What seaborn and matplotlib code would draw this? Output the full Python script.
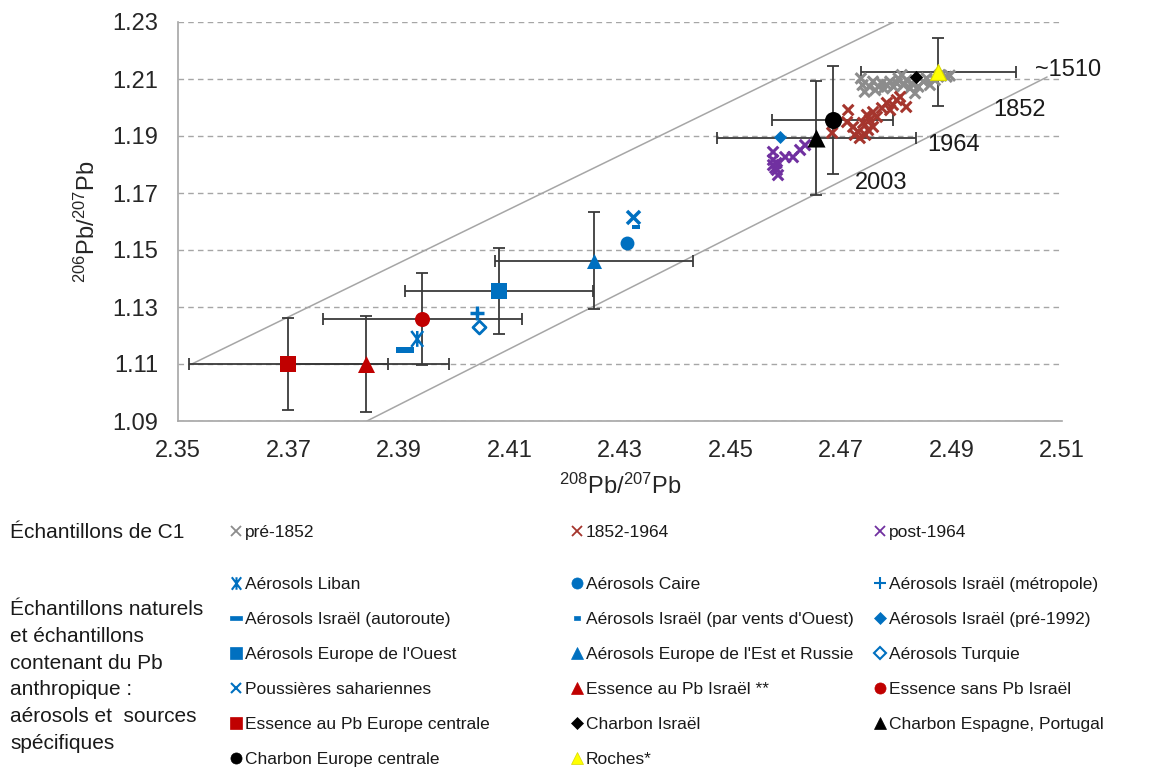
import numpy as np
import pandas as pd
import matplotlib.pyplot as plt
import seaborn as sns
from matplotlib import font_manager
from matplotlib.lines import Line2D
from matplotlib.markers import MarkerStyle
from matplotlib.path import Path


# C1 samples (ice core), 208Pb/207Pb vs 206Pb/207Pb
pre1852_x = [2.4736, 2.4739, 2.4743, 2.4752, 2.4758, 2.4762, 2.4768, 2.4774, 2.4777, 2.4783,
             2.4789, 2.4795, 2.4801, 2.4804, 2.4810, 2.4813, 2.4819, 2.4825, 2.4828, 2.4834,
             2.4840, 2.4849, 2.4855, 2.4861, 2.4870, 2.4879, 2.4891, 2.4897]
pre1852_y = [1.2102, 1.2079, 1.2055, 1.2073, 1.2091, 1.2061, 1.2073, 1.2085, 1.2067, 1.2079,
             1.2091, 1.2073, 1.2085, 1.2102, 1.2114, 1.2079, 1.2096, 1.2067, 1.2085, 1.2050,
             1.2073, 1.2091, 1.2102, 1.2079, 1.2096, 1.2114, 1.2108, 1.2112]
mid_x = [2.4684, 2.4713, 2.4711, 2.4722, 2.4725, 2.4731, 2.4734, 2.4740, 2.4744, 2.4747, 2.4749,
         2.4752, 2.4758, 2.4758, 2.4765, 2.4774, 2.4783, 2.4789, 2.4794, 2.4801, 2.4807, 2.4818]
mid_y = [1.1911, 1.1991, 1.1949, 1.1932, 1.1904, 1.1914, 1.1893, 1.1946, 1.1904, 1.1974, 1.1921,
         1.1956, 1.1984, 1.1932, 1.1967, 1.1998, 1.2016, 1.1991, 1.2009, 1.2026, 1.2037, 1.2002]
post1964_x = [2.4577, 2.4577, 2.4577, 2.4584, 2.4586, 2.4581, 2.4599, 2.4613, 2.4626, 2.4635, 2.4583]
post1964_y = [1.1844, 1.1816, 1.1798, 1.1781, 1.1763, 1.1788, 1.1826, 1.1826, 1.1851, 1.1868, 1.1805]
c1_labels = ["pré-1852", "1852-1964", "post-1964"]

# natural and anthropogenic sources
src_names = ["Aérosols Liban", "Aérosols Caire", "Aérosols Israël (métropole)",
             "Aérosols Israël (autoroute)", "Aérosols Israël (par vents d'Ouest)",
             "Aérosols Israël (pré-1992)", "Aérosols Europe de l'Ouest",
             "Aérosols Europe de l'Est et Russie", "Aérosols Turquie", "Poussières sahariennes",
             "Essence au Pb Israël **", "Essence sans Pb Israël", "Essence au Pb Europe centrale",
             "Charbon Israël", "Charbon Espagne, Portugal", "Charbon Europe centrale", "Roches*"]
src_x = [2.3933, 2.4313, 2.4041, 2.3911, 2.4329, 2.4590, 2.4081, 2.4253, 2.4045, 2.4324,
         2.3840, 2.3942, 2.3700, 2.4836, 2.4655, 2.4685, 2.4876]
src_y = [1.1188, 1.1525, 1.1279, 1.1149, 1.1580, 1.1896, 1.1356, 1.1462, 1.1230, 1.1616,
         1.1100, 1.1258, 1.1100, 1.2107, 1.1893, 1.1956, 1.2125]
src_xerr = [0, 0, 0, 0, 0, 0, 0.017, 0.018, 0, 0, 0.015, 0.018, 0.018, 0, 0.018, 0.011, 0.014]
src_yerr = [0, 0, 0, 0, 0, 0, 0.015, 0.017, 0, 0, 0.017, 0.016, 0.016, 0, 0.020, 0.019, 0.012]

# isochron-like guide lines and their date labels
guide_upper = ([2.3525, 2.4795], [1.110, 1.230])
guide_lower = ([2.3842, 2.5073], [1.090, 1.2107])
date_labels = ["~1510", "1852", "1964", "2003"]
date_x = [2.5051, 2.4975, 2.4857, 2.4725]
date_y = [1.2132, 1.1991, 1.1868, 1.1735]

BLUE = "#0070c0"
RED = "#c00000"
GREY = "#8c8c8c"
BROWN = "#a5352d"
PURPLE = "#7030a0"

# cross with a vertical bar through it
asterisk = MarkerStyle(
    Path([(0, -1), (0, 1), (-0.75, -1), (0.75, 1), (-0.75, 1), (0.75, -1)],
         [Path.MOVETO, Path.LINETO, Path.MOVETO, Path.LINETO, Path.MOVETO, Path.LINETO]),
    fillstyle="none")
wide_bar = Path([(-1, -0.33), (1, -0.33), (1, 0.33), (-1, 0.33), (-1, -0.33)],
                [Path.MOVETO, Path.LINETO, Path.LINETO, Path.LINETO, Path.CLOSEPOLY])
small_bar = Path([(-1, -0.55), (1, -0.55), (1, 0.55), (-1, 0.55), (-1, -0.55)],
                 [Path.MOVETO, Path.LINETO, Path.LINETO, Path.LINETO, Path.CLOSEPOLY])

# marker, face, edge, size (pt^2), edge width
src_style = [
    (asterisk, BLUE, BLUE, 130, 1.8),
    ("o", BLUE, BLUE, 100, 0),
    ("+", BLUE, BLUE, 90, 2.5),
    (wide_bar, BLUE, BLUE, 150, 0),
    (small_bar, BLUE, BLUE, 34, 0),
    ("D", BLUE, BLUE, 44, 0),
    ("s", BLUE, BLUE, 117, 0),
    ("^", BLUE, BLUE, 117, 0),
    ("D", "white", BLUE, 44, 2),
    ("x", BLUE, BLUE, 88, 2.5),
    ("^", RED, RED, 150, 0),
    ("o", RED, RED, 117, 0),
    ("s", RED, RED, 132, 0),
    ("D", "black", "black", 46, 0),
    ("^", "black", "black", 169, 0),
    ("o", "black", "black", 150, 0),
    ("^", "#ffff00", "#d8d800", 132, 0.8),
]

sns.set_style("white")
plt.rcParams["font.family"] = ["Liberation Sans", "DejaVu Sans"]
plt.rcParams["mathtext.fontset"] = "custom"
plt.rcParams["mathtext.rm"] = "Liberation Sans"

# the legend entries use a condensed face if there is one
installed = {f.name for f in font_manager.fontManager.ttflist}
if "Liberation Sans Narrow" in installed:
    LEG_FAMILY, LEG_SIZE, LEG_SPACING = ["Liberation Sans Narrow", "Liberation Sans"], 15, 0.78
else:
    LEG_FAMILY, LEG_SIZE, LEG_SPACING = ["Liberation Sans", "DejaVu Sans"], 12.5, 1.14

W, H = 1174, 771
fig = plt.figure(figsize=(W / 100, H / 100), dpi=100)
ax = fig.add_axes([178 / W, 1 - 421 / H, (1062 - 178) / W, (421 - 22) / H])

ax.plot(*guide_upper, color="#a6a6a6", lw=1.1, zorder=1)
ax.plot(*guide_lower, color="#a6a6a6", lw=1.1, zorder=1)

c1 = pd.DataFrame({
    "x": pre1852_x + mid_x + post1964_x,
    "y": pre1852_y + mid_y + post1964_y,
    "groupe": [c1_labels[0]] * len(pre1852_x) + [c1_labels[1]] * len(mid_x)
    + [c1_labels[2]] * len(post1964_x),
})
sns.scatterplot(data=c1, x="x", y="y", hue="groupe", palette=[GREY, BROWN, PURPLE],
                marker="x", s=58, linewidth=2.2, legend=False, ax=ax, zorder=3)

for i, name in enumerate(src_names):
    if src_xerr[i] or src_yerr[i]:
        ax.errorbar(src_x[i], src_y[i], xerr=src_xerr[i], yerr=src_yerr[i], fmt="none",
                    ecolor="#3a3a3a", elinewidth=1.3, capsize=4, capthick=1.3, zorder=2)
for i, name in enumerate(src_names):
    m, fc, ec, s, lw = src_style[i]
    sns.scatterplot(x=[src_x[i]], y=[src_y[i]], marker=m, s=s, color=fc, edgecolor=ec,
                    linewidth=lw, ax=ax, zorder=4, legend=False)

for lab, tx, ty in zip(date_labels, date_x, date_y):
    ax.text(tx, ty, lab, fontsize=17, color="#1a1a1a", ha="left", va="center")

ax.set_xlim(2.35, 2.51)
ax.set_ylim(1.09, 1.23)
ax.set_xticks(np.linspace(2.35, 2.51, 9))
ax.set_yticks(np.linspace(1.09, 1.23, 8))
ax.xaxis.set_major_formatter("{x:.2f}")
ax.yaxis.set_major_formatter("{x:.2f}")
ax.yaxis.grid(True, linestyle=(0, (4, 3)), color="#a6a6a6", lw=1)
ax.xaxis.grid(False)
sns.despine(ax=ax)
for side in ("left", "bottom"):
    ax.spines[side].set_color("#a6a6a6")
    ax.spines[side].set_linewidth(1.2)
ax.tick_params(axis="both", direction="out", length=6, width=1.2, color="#a6a6a6",
               labelsize=17, labelcolor="#262626", pad=8)
ax.set_xlabel(r"$\mathregular{^{208}Pb/^{207}Pb}$", fontsize=17, color="#262626", labelpad=8)
ax.set_ylabel(r"$\mathregular{^{206}Pb/^{207}Pb}$", fontsize=17, color="#262626", labelpad=9)


def handle(m, fc, ec, ms, mew):
    return Line2D([], [], linestyle="none", marker=m, markersize=ms,
                  markerfacecolor=fc, markeredgecolor=ec, markeredgewidth=mew)


def column_legend(handles, labels, x_px, y_px):
    leg = fig.legend(handles, labels, loc="upper left",
                     bbox_to_anchor=(x_px / W, 1 - y_px / H), frameon=False,
                     prop={"family": LEG_FAMILY, "size": LEG_SIZE},
                     handlelength=0.6, handletextpad=0.2,
                     labelspacing=LEG_SPACING, borderpad=0, borderaxespad=0)
    for t in leg.get_texts():
        t.set_color("#1a1a1a")
    return leg


c1_cols = [GREY, BROWN, PURPLE]
col_x = [231, 572, 875]
for k in range(3):
    column_legend([handle("x", c1_cols[k], c1_cols[k], 6.5, 1.3)], [c1_labels[k]], col_x[k], 525)

leg_small = {"D": 6, "s": 8, "^": 8, "o": 8, "x": 6.5, "+": 8}
src_handles = []
for m, fc, ec, s, lw in src_style:
    if isinstance(m, str):
        ms = leg_small.get(m, 8)
    elif m is small_bar:
        ms = 5
    else:
        ms = 9
    mew = 1.5 if (m in ("x", "+") or m is asterisk or fc == "white") else 0.5
    src_handles.append(handle(m, fc, ec, ms, mew))

col_rows = [[0, 3, 6, 9, 12, 15], [1, 4, 7, 10, 13, 16], [2, 5, 8, 11, 14]]
for k, rows in enumerate(col_rows):
    column_legend([src_handles[i] for i in rows], [src_names[i] for i in rows], col_x[k], 577)

fig.text(10 / W, 1 - 532 / H, "Échantillons de C1", fontsize=15, color="#1a1a1a",
         ha="left", va="center")
fig.text(10 / W, 1 - 600 / H,
         "Échantillons naturels\net échantillons\ncontenant du Pb\nanthropique :\n"
         "aérosols et  sources\nspécifiques",
         fontsize=15, color="#1a1a1a", ha="left", va="top", linespacing=1.52)

fig.savefig("out.png", dpi=100)
